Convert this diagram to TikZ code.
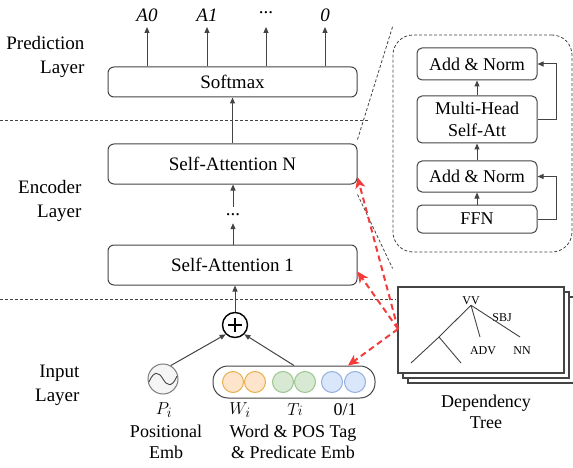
\documentclass[tikz,border=0pt]{standalone}
\usepackage{fontspec}
\setmainfont{Liberation Serif}
\usetikzlibrary{arrows.meta}

\definecolor{rojo}{HTML}{F53A3A}
\definecolor{naranjaF}{HTML}{FDE4CA}
\definecolor{naranjaD}{HTML}{E5B04E}
\definecolor{verdeF}{HTML}{D7E9D3}
\definecolor{verdeD}{HTML}{9CC58F}
\definecolor{azulF}{HTML}{DAE7FB}
\definecolor{azulD}{HTML}{93AEDD}
\definecolor{gris}{HTML}{444444}

\begin{document}
\begin{tikzpicture}[x=1pt,y=-1pt,
    every node/.style={font=\rmfamily\fontsize{19}{24}\selectfont},
    capa/.style={draw=gris,line width=1pt,rounded corners=6pt,minimum width=249pt,inner sep=0pt},
    cajita/.style={draw=gris,line width=1pt,rounded corners=5pt,minimum width=120pt,inner sep=0pt,
                   align=center,font=\rmfamily\fontsize{18}{22}\selectfont},
    etiq/.style={anchor=east,align=right},
    peq/.style={font=\rmfamily\fontsize{18}{21}\selectfont,align=center},
    arbol/.style={font=\rmfamily\fontsize{12}{14}\selectfont,inner sep=0pt},
    flecha/.style={line width=1pt,draw=gris,-{Triangle[length=6pt,width=5pt]}},
    rojaflecha/.style={rojo,line width=2pt,dash pattern=on 6pt off 4pt,
                       -{Stealth[length=11pt,width=10pt,inset=3pt]}},
    separa/.style={gris,line width=0.8pt,dash pattern=on 3pt off 2pt},
    bolita/.style={circle,line width=1pt,minimum size=21pt,inner sep=0pt}]
  \useasboundingbox (0,0) rectangle (573,468);

  % Etiquetas de las capas
  \node[etiq] (lpred) at (88,57)  {Prediction\\Layer};
  \node[etiq] (lenc)  at (85,201) {Encoder\\Layer};
  \node[etiq] (linp)  at (83,385) {Input\\Layer};

  \draw[separa] (0,120) -- (368,120);
  \draw[separa] (0,299) -- (396,299);

  % Capa de prediccion
  \node[capa,minimum height=30pt] (soft) at (232.5,82) {Softmax};
  \node (a0) at (147,15) {\itshape A0};
  \node (a1) at (207,15) {\itshape A1};
  \node (ad) at (266,13) {...};
  \node (ac) at (325,15) {\itshape 0};
  \foreach \s in {a0,a1,ad,ac}
    \draw[flecha] (soft.north -| \s) -- (\s |- 0,27);

  % Codificador
  \node[capa,minimum height=40pt] (saN) at (232.5,164) {Self-Attention N};
  \node[minimum height=16pt,inner sep=0pt] (dots) at (233,215) {...};
  \node[capa,minimum height=40pt] (sa1) at (232.5,265) {Self-Attention 1};
  \draw[flecha] (saN.north -| soft) -- (soft.south);
  \draw[flecha] (dots.north) -- (saN.south -| dots);
  \draw[flecha] (sa1.north -| dots) -- (dots.south);

  % Entrada
  \node[draw=black,circle,line width=1.4pt,minimum size=25pt,inner sep=0pt] (suma) at (235,325) {};
  \draw[line width=1.4pt] (suma.center) +(-7,0) -- +(7,0) +(0,-7) -- +(0,7);
  \draw[flecha] (suma.north) -- (sa1.south -| suma);

  \node[bolita,draw=gris!70,fill=gray!8,minimum size=30pt] (pos) at (163,379) {};
  \draw[gris,line width=0.9pt] (149,382) .. controls (154,370) and (159,372) .. (163,379)
                               .. controls (167,386) and (172,388) .. (177,376);
  \node[draw=gris,line width=1pt,rounded corners=15pt,minimum width=162pt,minimum height=32pt] (emb) at (294,382) {};
  \node[bolita,draw=naranjaD,fill=naranjaF] (e1) at (233,382) {};
  \node[bolita,draw=naranjaD,fill=naranjaF] (e2) at (255,382) {};
  \node[bolita,draw=verdeD,fill=verdeF] (e3) at (283,382) {};
  \node[bolita,draw=verdeD,fill=verdeF] (e4) at (305,382) {};
  \node[bolita,draw=azulD,fill=azulF] (e5) at (332,382) {};
  \node[bolita,draw=azulD,fill=azulF] (e6) at (355,382) {};
  \draw[flecha] (pos.60) -- (suma.south west);
  \draw[flecha] (emb.north) -- (suma.south east);

  \node (pi) at (164,410) {$P_i$};
  \node (wi) at (240,410) {$W_i$};
  \node (ti) at (295,410) {$T\mkern-2mu\scriptstyle i$};
  \node (cu) at (345,410) {\fontsize{18}{21}\selectfont 0/1};
  \node[peq] (lpos) at (166,442) {Positional\\Emb};
  \node[peq] (lemb) at (293,442) {Word \& POS Tag\\\& Predicate Emb};

  % Detalle del bloque de auto-atencion
  \node[draw=gris,line width=0.8pt,dash pattern=on 3pt off 2pt,rounded corners=20pt,
        minimum width=179pt,minimum height=217pt] (zoom) at (482.5,143.5) {};
  \node[cajita,minimum height=32pt] (an1) at (477,64) {Add \& Norm};
  \node[cajita,minimum height=47pt] (mh) at (477,119.5) {Multi-Head\\Self-Att};
  \node[cajita,minimum height=31pt] (an2) at (477,176.5) {Add \& Norm};
  \node[cajita,minimum height=28pt] (ffn) at (477,219) {FFN};
  \draw[flecha] (mh.north) -- (an1.south);
  \draw[flecha] (an2.north) -- (mh.south);
  \draw[flecha] (ffn.north) -- (an2.south);
  \draw[flecha] (mh.east) -- ++(19,0) |- (an1.east);
  \draw[flecha] (ffn.east) -- ++(19,0) |- (an2.east);
  \draw[separa] ([yshift=4pt]saN.north east) -- ([yshift=8pt]zoom.north west);
  \draw[separa] ([yshift=-10pt]saN.south east) -- ([yshift=-16pt]zoom.south west);

  % Arbol de dependencias
  \draw[gris,line width=1.2pt,fill=white] (408,297) rectangle (574,383);
  \draw[gris,line width=1.2pt,fill=white] (403,292) rectangle (569,378);
  \node[draw=gris,line width=1.2pt,fill=white,minimum width=166pt,minimum height=86pt] (dep) at (481,330) {};
  \node[arbol] (vv)  at (471,301) {VV};
  \node[arbol] (sbj) at (502,318) {SBJ};
  \node[arbol] (adv) at (483,351) {ADV};
  \node[arbol] (nn)  at (522,351) {NN};
  \coordinate (k)  at (439,337);
  \coordinate (kA) at (480,337);
  \coordinate (kN) at (520,337);
  \draw[gris,line width=0.9pt] (vv.south) -- (k) (vv.south) -- (kA) (vv.south) -- (kN);
  \draw[gris,line width=0.9pt] (411,363) -- (k) -- (461,363);
  \node[peq] (ldep) at (486,412) {Dependency\\Tree};

  \coordinate (fuente) at (398,329);
  \draw[rojaflecha] (fuente) -- (saN.-6);
  \draw[rojaflecha] (fuente) -- (sa1.-3);
  \draw[rojaflecha] (fuente) -- (emb.17);
\end{tikzpicture}
\end{document}
